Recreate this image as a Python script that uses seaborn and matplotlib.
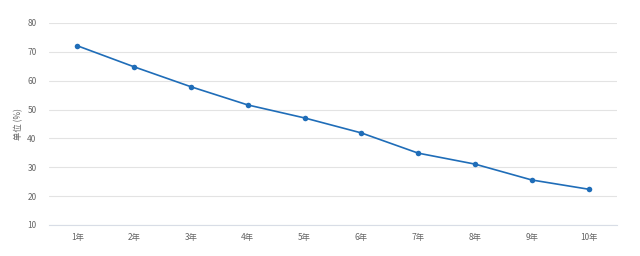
import matplotlib
matplotlib.use("Agg")
import matplotlib.pyplot as plt
import seaborn as sns
import pandas as pd
import numpy as np

categories = ["1年", "2年", "3年", "4年", "5年", "6年", "7年", "8年", "9年", "10年"]
values = [72.1, 64.8, 57.9, 51.6, 47.1, 41.9, 34.9, 31.1, 25.6, 22.4]
y_ticks = [10, 20, 30, 40, 50, 60, 70, 80]
y_label = "单位 (%)"

sns.set_theme(style="white")
plt.rcParams['font.family'] = ['Noto Sans CJK SC', 'DejaVu Sans']

df = pd.DataFrame({"cat": categories, "val": values, "pos": np.arange(len(categories))})

fig = plt.figure(figsize=(6.4, 2.56), dpi=100)
ax = fig.add_axes([49/640, 1-225/256, (617-49)/640, (225-23)/256])

sns.lineplot(data=df, x="pos", y="val", ax=ax, color="#1f6db8", linewidth=1.2,
             marker="o", markersize=4, markeredgewidth=0, zorder=3)

ax.set_xlim(-0.5, len(categories) - 0.5)
ax.set_ylim(10, 80)
ax.set_yticks(y_ticks)
ax.set_yticklabels([str(t) for t in y_ticks])
ax.set_xticks(np.arange(len(categories)))
ax.set_xticklabels(categories)
ax.set_xticks(np.arange(-0.5, len(categories), 1.0), minor=True)

ax.grid(axis="y", color="#e3e3e3", linewidth=0.8, zorder=0)
ax.grid(axis="x", visible=False)
for s in ["top", "right", "left"]:
    ax.spines[s].set_visible(False)
ax.spines["bottom"].set_color("#d8dde6")
ax.spines["bottom"].set_linewidth(0.8)

ax.tick_params(axis="x", which="major", length=0, pad=6, labelsize=6, labelcolor="#666666")
ax.tick_params(axis="x", which="minor", length=5, width=0.8, color="#d8dde6", direction="out")
ax.tick_params(axis="y", length=0, pad=9, labelsize=6, labelcolor="#666666")

ax.set_xlabel("")
ax.set_ylabel(y_label, fontsize=6, color="#666666", labelpad=3)

fig.savefig("out.png", dpi=100, facecolor="white")
